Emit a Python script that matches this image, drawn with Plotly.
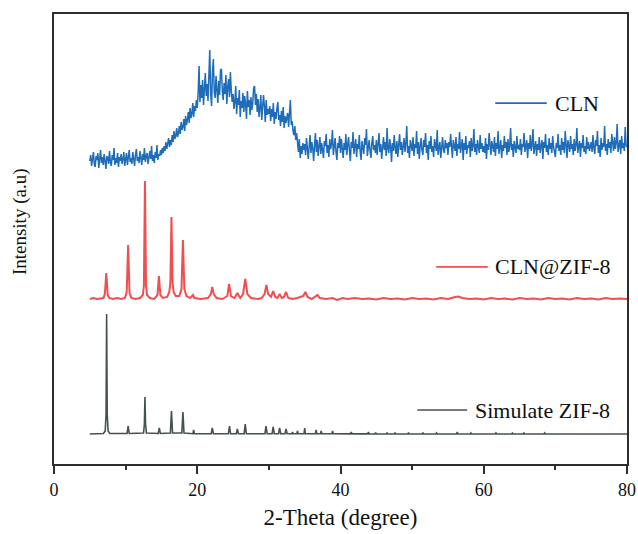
import plotly.graph_objects as go

# ---------------- data ----------------
# CLN (amorphous, noisy) sampled every 0.125 deg from 5 to 80 deg
cln_start, cln_step = 5.0, 0.125
cln_y = [
    # 5 - 10
    303, 309, 298, 306, 312, 300, 297, 308, 304, 311, 296, 305, 314, 301, 307, 299, 310, 303, 295, 308,
    306, 300, 313, 302, 298, 309, 304, 316, 299, 306, 301, 311, 297, 307, 303, 310, 300, 305, 312, 298,
    # 10 - 15
    304, 311, 299, 308, 314, 302, 306, 300, 312, 305, 298, 309, 315, 303, 307, 301, 313, 306, 299, 310,
    304, 316, 302, 308, 311, 300, 307, 313, 305, 318, 303, 309, 301, 312, 306, 319, 304, 310, 308, 314,
    # 15 - 20
    309, 316, 311, 318, 313, 322, 315, 320, 326, 317, 324, 319, 329, 322, 333, 325, 328, 336, 327, 331,
    338, 330, 342, 334, 337, 345, 333, 348, 339, 344, 352, 341, 356, 346, 350, 361, 347, 358, 353, 364,
    # 20 - 25
    356, 371, 398, 362, 379, 366, 384, 359, 375, 391, 368, 380, 363, 386, 414, 370, 358, 392, 405, 372,
    366, 388, 376, 361, 383, 369, 394, 395, 373, 364, 381, 370, 389, 360, 377, 385, 367, 392, 374, 362,
    # 25 - 30
    370, 355, 362, 378, 350, 366, 359, 374, 347, 363, 356, 371, 352, 368, 360, 345, 373, 357, 364, 349,
    367, 354, 361, 376, 378, 359, 370, 352, 365, 347, 356, 369, 344, 362, 369, 358, 342, 364, 349, 355,
    # 30 - 35
    350, 358, 343, 355, 347, 361, 340, 352, 345, 356, 362, 344, 349, 338, 353, 342, 357, 336, 348, 341,
    345, 351, 337, 347, 364, 339, 343, 333, 329, 338, 324, 331, 320, 312, 325, 306, 318, 310, 321, 314,
    # 35 - 40
    320, 309, 326, 314, 305, 318, 329, 311, 322, 316, 303, 319, 331, 312, 324, 308, 317, 327, 310, 321,
    314, 306, 323, 318, 330, 311, 319, 307, 325, 315, 320, 334, 309, 317, 326, 312, 304, 321, 316, 328,
    # 40 - 45
    311, 325, 318, 306, 321, 314, 330, 309, 319, 327, 313, 303, 322, 316, 332, 310, 318, 325, 307, 320,
    315, 329, 312, 304, 323, 317, 310, 326, 319, 335, 308, 316, 324, 313, 306, 321, 328, 314, 319, 311,
    # 45 - 50
    324, 309, 317, 331, 312, 320, 305, 318, 327, 314, 322, 308, 336, 315, 311, 325, 318, 302, 321, 313,
    329, 316, 310, 323, 307, 319, 330, 314, 322, 309, 317, 326, 312, 320, 338, 311, 318, 306, 324, 315,
    # 50 - 55
    313, 327, 308, 320, 316, 333, 310, 322, 305, 318, 326, 314, 309, 324, 317, 331, 311, 319, 304, 323,
    315, 328, 312, 318, 307, 325, 320, 313, 334, 309, 317, 322, 306, 319, 327, 314, 311, 324, 316, 321,
    # 55 - 60
    309, 322, 317, 330, 312, 306, 324, 318, 313, 327, 308, 320, 315, 332, 311, 318, 325, 304, 321, 314,
    328, 310, 319, 316, 323, 307, 326, 313, 318, 335, 312, 320, 309, 324, 317, 311, 329, 315, 321, 312,
    # 60 - 65
    318, 311, 326, 305, 320, 314, 331, 316, 309, 323, 318, 312, 327, 308, 321, 315, 333, 310, 317, 324,
    306, 319, 313, 328, 316, 322, 309, 325, 312, 318, 336, 314, 320, 307, 323, 317, 311, 328, 315, 319,
    # 65 - 70
    314, 325, 309, 320, 317, 331, 312, 318, 324, 306, 321, 315, 329, 313, 319, 335, 310, 317, 323, 308,
    320, 314, 327, 311, 318, 324, 305, 322, 316, 330, 312, 319, 309, 326, 315, 321, 311, 328, 317, 313,
    # 70 - 75
    307, 321, 316, 330, 313, 319, 309, 326, 314, 322, 311, 333, 317, 306, 324, 318, 312, 328, 315, 320,
    309, 325, 313, 319, 336, 311, 318, 323, 307, 321, 316, 329, 312, 318, 310, 327, 315, 322, 313, 320,
    # 75 - 80
    322, 312, 329, 316, 310, 324, 318, 333, 311, 319, 307, 326, 314, 321, 317, 338, 313, 320, 309, 325,
    316, 322, 311, 330, 318, 313, 327, 315, 321, 340, 312, 319, 324, 310, 328, 316, 321, 313, 337, 318,
    317,
]
cln_x = [round(cln_start + cln_step * i, 3) for i in range(len(cln_y))]

# CLN@ZIF-8 (offset trace)
zif_x = [
    5.0, 5.5, 6.0, 6.5, 6.9, 7.1, 7.3, 7.5, 7.7, 8.2, 8.8, 9.4, 9.9, 10.15, 10.35, 10.55, 10.8,
    11.4, 12.0, 12.4, 12.55, 12.7, 12.85, 13.0, 13.4, 14.0, 14.45, 14.65, 14.85, 15.2, 15.8,
    16.1, 16.25, 16.4, 16.55, 16.7, 17.0, 17.5, 17.8, 18.0, 18.2, 18.5, 19.0, 19.4, 19.6,
    20.5, 21.5, 21.9, 22.1, 22.3, 22.7, 23.5, 24.2, 24.45, 24.7, 25.2, 25.6, 26.0, 26.4, 26.7,
    27.0, 27.5, 28.5, 29.0, 29.4, 29.65, 29.9, 30.3, 30.6, 30.9, 31.2, 31.5, 31.8, 32.1, 32.4,
    32.7, 33.3, 34.0, 34.8, 35.1, 35.4, 36.0, 36.5, 36.8, 37.1, 38.0, 38.9, 39.5, 40.3, 41.0,
    42.0, 43.0, 44.0, 45.0, 46.0, 47.0, 48.0, 49.0, 50.0, 51.0, 52.0, 53.0, 54.0, 55.0, 56.0,
    56.5, 57.0, 58.0, 59.0, 60.0, 61.0, 62.0, 63.0, 64.0, 65.0, 66.0, 67.0, 68.0, 69.0, 70.0,
    71.0, 72.0, 73.0, 74.0, 75.0, 76.0, 77.0, 78.0, 79.0, 80.0,
]
zif_y = [
    165, 166, 165, 165.5, 166, 170, 191, 169, 166, 165, 166, 165, 166, 172, 219, 171, 166,
    165, 166, 169, 178, 283, 178, 169, 166, 165, 169, 188, 169, 166, 167,
    172, 182, 247, 182, 172, 168, 168, 175, 224, 175, 168, 166, 169, 166,
    165, 166, 170, 177, 170, 166, 165, 168, 180, 168, 166, 171, 166, 170, 185,
    170, 166, 165, 166, 170, 179, 170, 167, 173, 167, 166, 170, 166, 167, 172,
    166, 165, 166, 168, 172, 167, 165, 167, 169, 166, 165, 166, 164, 166, 165,
    166, 165, 165.5, 164.5, 166, 165, 165.5, 164.5, 166, 165, 165.5, 164.5, 166, 165, 167,
    167.5, 166, 165, 165.5, 164.5, 166, 165, 165.5, 164.5, 166, 165, 165.5, 164.5, 166, 165,
    165.5, 164.5, 166, 165, 165.5, 164.5, 166, 165, 165.5, 165,
]

# Simulated ZIF-8 pattern
sim_x = [
    5.0, 6.9, 7.15, 7.27, 7.35, 7.43, 7.55, 7.8, 10.2, 10.35, 10.5, 12.5, 12.62, 12.7, 12.78, 12.9,
    14.55, 14.7, 14.85, 16.25, 16.4, 16.55, 17.85, 18.0, 18.15, 19.4, 19.5, 19.6, 21.95, 22.1, 22.25,
    24.35, 24.5, 24.65, 25.45, 25.6, 25.75, 26.55, 26.7, 26.85, 29.45, 29.6, 29.75, 30.45, 30.6, 30.75,
    31.35, 31.5, 31.65, 32.25, 32.4, 32.55, 33.2, 33.3, 33.4, 33.9, 34.0, 34.1, 34.9, 35.0, 35.1,
    36.5, 36.6, 36.7, 37.2, 37.3, 37.4, 38.8, 38.9, 39.0, 41.4, 41.5, 41.6, 43.8, 43.9, 44.0,
    44.8, 44.9, 45.0, 46.4, 46.5, 46.6, 47.5, 47.6, 47.7, 49.4, 49.5, 49.6, 51.4, 51.5, 51.6,
    53.3, 53.4, 53.5, 56.2, 56.3, 56.4, 58.1, 58.2, 58.3, 61.6, 61.7, 61.8, 63.9, 64.0, 64.1,
    65.5, 65.6, 65.7, 68.4, 68.5, 68.6, 80.0,
]
sim_y = [
    30, 30.5, 33, 50, 150, 50, 33, 30.5, 30.5, 38, 30.5, 31, 40, 67, 40, 31,
    30.5, 36, 30.5, 31, 53, 31, 31, 52, 31, 30.3, 34, 30.3, 30.3, 36, 30.3,
    30.3, 38, 30.3, 30.3, 35, 30.3, 30.3, 40, 30.3, 30.3, 38, 30.3, 30.3, 37, 30.3,
    30.3, 36, 30.3, 30.3, 35, 30.3, 30.2, 32, 30.2, 30.2, 33, 30.2, 30.2, 36, 30.2,
    30.2, 34, 30.2, 30.2, 33, 30.2, 30.2, 33, 30.2, 30.1, 32, 30.1, 30.1, 32, 30.1,
    30, 31.5, 30, 30, 31.5, 30, 30, 31.5, 30, 30, 31.5, 30, 30, 31.5, 30,
    30, 31, 30, 30, 32, 30, 30, 31, 30, 30, 31, 30, 30, 31, 30,
    30, 31.5, 30, 30, 31, 30, 30,
]

series_names = ["CLN", "CLN@ZIF-8", "Simulate ZIF-8"]
x_ticks = [0, 20, 40, 60, 80]

# ---------------- styles ----------------
BLUE = "#1F6DB8"
RED = "#F04E50"
GRAY = "#475151"
FONT = "Liberation Serif"
FRAME = "#2b2f2f"

fig = go.Figure()
fig.add_trace(go.Scatter(x=cln_x, y=cln_y, mode="lines", name=series_names[0],
                         line=dict(color=BLUE, width=1.5)))
fig.add_trace(go.Scatter(x=zif_x, y=zif_y, mode="lines", name=series_names[1],
                         line=dict(color=RED, width=2.0)))
fig.add_trace(go.Scatter(x=sim_x, y=sim_y, mode="lines", name=series_names[2],
                         line=dict(color=GRAY, width=1.6)))

# Legend-like labels (line sample + text) inside the plot
legend_items = [
    (series_names[0], BLUE, 0.770, 0.860, 0.802),
    (series_names[1], RED, 0.667, 0.757, 0.438),
    (series_names[2], GRAY, 0.634, 0.721, 0.120),
]
for name, col, x0, x1, yy in legend_items:
    fig.add_shape(type="line", xref="paper", yref="paper", x0=x0, x1=x1, y0=yy, y1=yy,
                  line=dict(color=col, width=1.6))
    fig.add_annotation(xref="paper", yref="paper", x=x1 + 0.01, y=yy, text=name,
                       showarrow=False, xanchor="left", yanchor="middle",
                       font=dict(family=FONT, size=22, color="#111"))

# y-axis title
fig.add_annotation(xref="paper", yref="paper", x=-0.059, y=0.538, text="Intensity (a.u)",
                   textangle=-90, showarrow=False, xanchor="center", yanchor="middle",
                   font=dict(family=FONT, size=19, color="#111"))

fig.update_layout(
    width=638, height=534,
    margin=dict(l=54, r=11, t=14, b=70),
    paper_bgcolor="white", plot_bgcolor="white",
    showlegend=False,
    font=dict(family=FONT, color="#111"),
)
fig.update_xaxes(
    range=[0, 80], tickvals=x_ticks, ticktext=[str(t) for t in x_ticks],
    ticks="outside", ticklen=8, tickwidth=1.5, tickcolor=FRAME,
    minor=dict(ticks="outside", ticklen=4, tickwidth=1.5, tickcolor=FRAME, dtick=10),
    showline=True, linecolor=FRAME, linewidth=2, mirror=True,
    showgrid=False, zeroline=False, automargin=False,
    tickfont=dict(family=FONT, size=18, color="#111"),
    title=dict(text="2-Theta (degree)", font=dict(family=FONT, size=23, color="#111"), standoff=10),
)
fig.update_yaxes(
    range=[0, 450], showticklabels=False, ticks="",
    showline=True, linecolor=FRAME, linewidth=2, mirror=True,
    showgrid=False, zeroline=False, automargin=False,
)

fig.write_html(
    "out.html",
    config={"displayModeBar": False},
    post_script="document.body.style.margin='0';document.body.style.overflow='hidden';",
)
